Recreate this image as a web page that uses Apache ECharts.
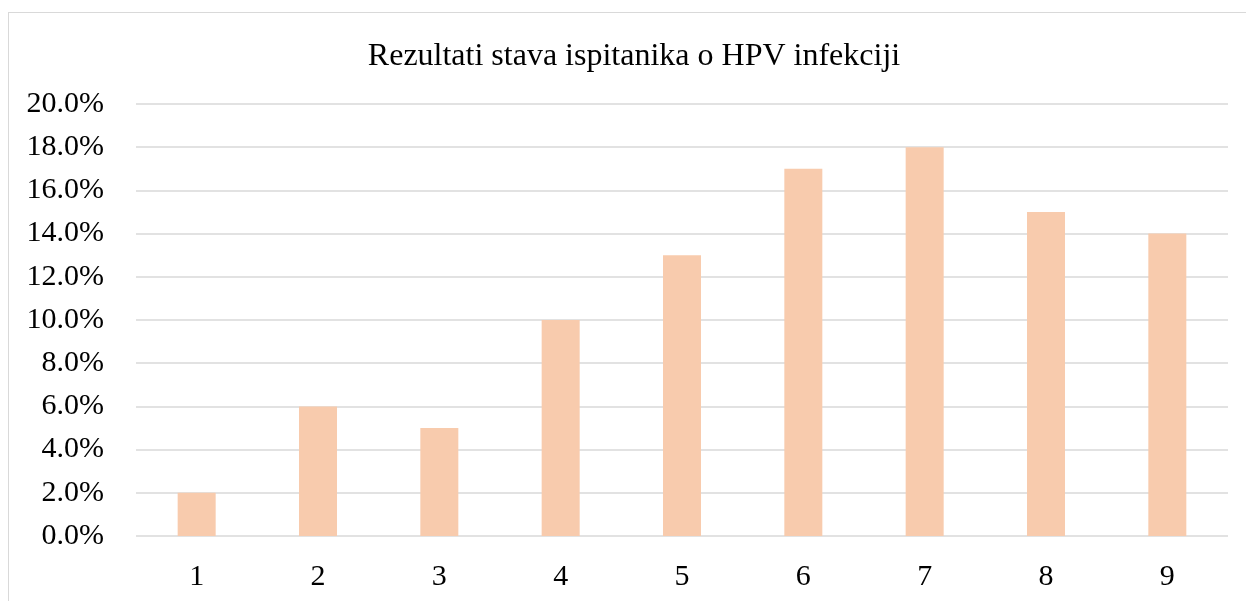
<!DOCTYPE html>
<html>
<head>
<meta charset="utf-8">
<script src="https://cdn.jsdelivr.net/npm/echarts@6/dist/echarts.min.js"></script>
<style>
  html, body { margin: 0; padding: 0; background: #fff; overflow: hidden; }
  #frame { position: absolute; left: 8px; top: 12px; width: 1300px; height: 700px; border: 1px solid #d9d9d9; box-sizing: border-box; }
  #main { position: absolute; left: 0; top: 0; width: 1246px; height: 601px; }
</style>
</head>
<body>
<div id="frame"></div>
<div id="main"></div>
<script>
// podaci
var categories = ['1', '2', '3', '4', '5', '6', '7', '8', '9'];
var values = [2, 6, 5, 10, 13, 17, 18, 15, 14];
var title = 'Rezultati stava ispitanika o HPV infekciji';

var myChart = echarts.init(document.getElementById('main'));
var font = '"Liberation Serif", "Times New Roman", serif';

var option = {
    animation: false,
    title: {
        text: title,
        left: 629,
        top: 36,
        textAlign: 'center',
        textStyle: { fontFamily: font, fontSize: 32, fontWeight: 'normal', color: '#000' }
    },
    grid: { left: 136, right: 18, top: 104, bottom: 65, containLabel: false },
    xAxis: {
        type: 'category',
        data: categories,
        axisLine: { show: false },
        axisTick: { show: false },
        axisLabel: { fontFamily: font, fontSize: 30, color: '#000', margin: 26 }
    },
    yAxis: {
        type: 'value',
        min: 0,
        max: 20,
        interval: 2,
        axisLine: { show: false },
        axisTick: { show: false },
        splitLine: { lineStyle: { color: '#d9d9d9', width: 1.5 } },
        axisLabel: {
            fontFamily: font, fontSize: 30, color: '#000', margin: 32,
            formatter: function (v) { return v.toFixed(1) + '%'; }
        }
    },
    series: [{
        type: 'bar',
        data: values,
        barWidth: 38,
        itemStyle: { color: '#F8CBAD' }
    }]
};

myChart.setOption(option);
window.onresize = function () { myChart.resize(); };
</script>
</body>
</html>
